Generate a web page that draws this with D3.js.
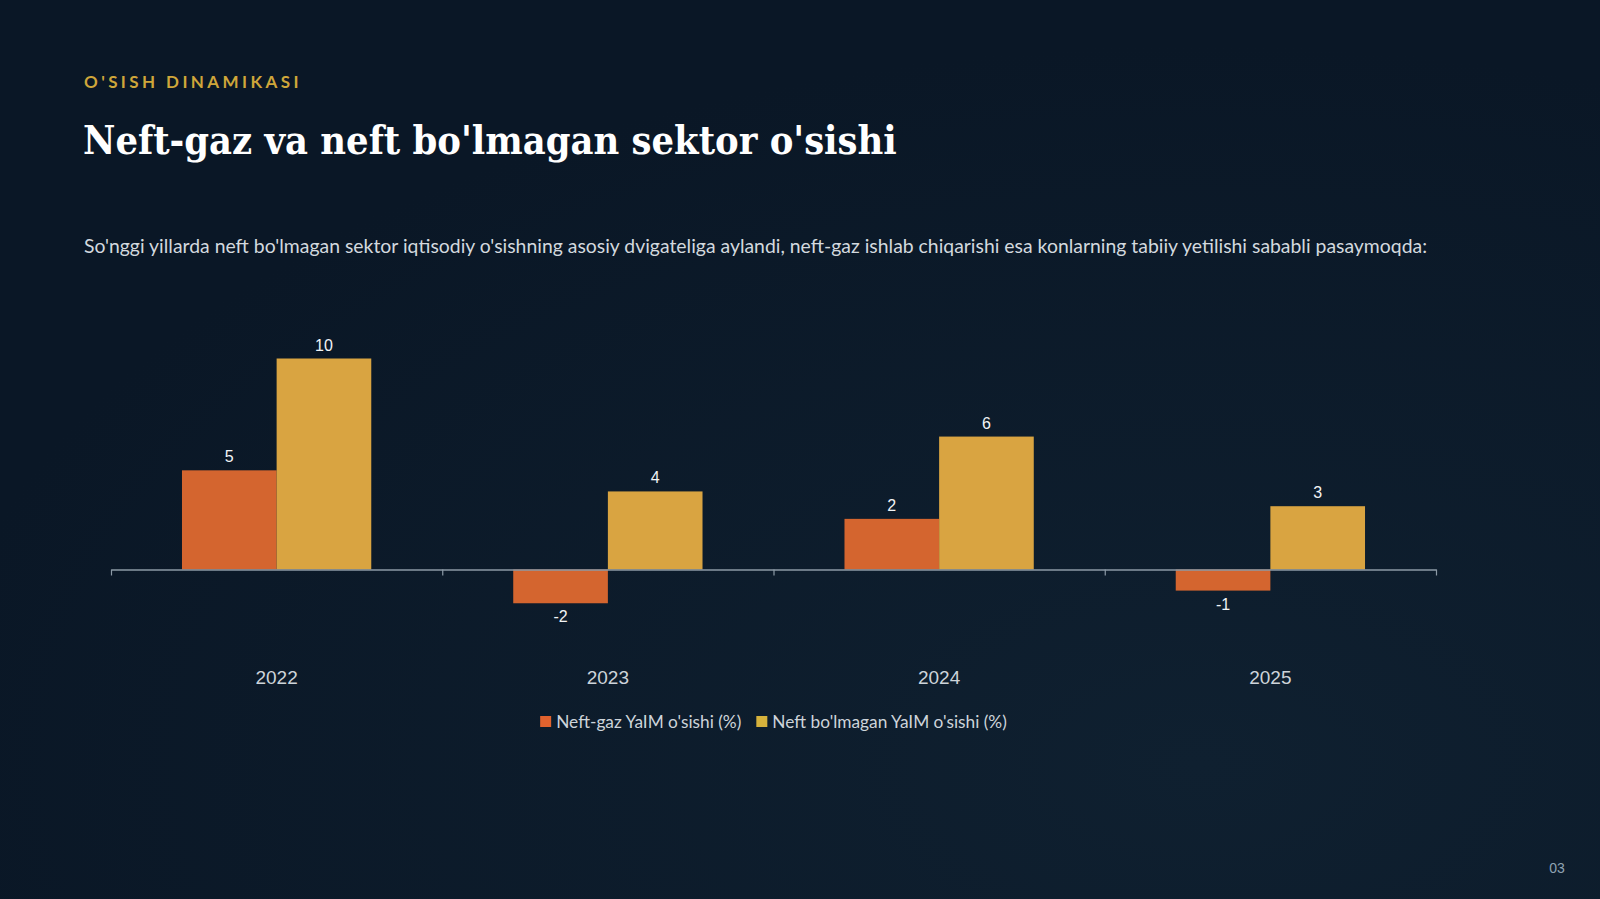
<!DOCTYPE html>
<html>
<head>
<meta charset="utf-8">
<script src="https://cdn.jsdelivr.net/npm/d3@7"></script>
<style>
  html, body { margin: 0; padding: 0; background: #0b1827; }
  svg { display: block; }
</style>
</head>
<body>
<svg id="chart" width="1600" height="899"></svg>
<script>
// chart data
const years = ['2022', '2023', '2024', '2025'];
const seriesNames = ["Neft-gaz YaIM o'sishi (%)", "Neft bo'lmagan YaIM o'sishi (%)"];
const oilGas = [4.7, -1.6, 2.4, -1.0];
const nonOil = [10.0, 3.7, 6.3, 3.0];
const seriesColors = ['#d4652f', '#d9a441'];
const legendColors = ['#e0622e', '#d6b23c'];

const svg = d3.select('#chart');

// background
const defs = svg.append('defs');
const bg = defs.append('radialGradient')
    .attr('id', 'bg')
    .attr('cx', '75%').attr('cy', '85%').attr('r', '80%');
bg.append('stop').attr('offset', '0%').attr('stop-color', '#0f2030');
bg.append('stop').attr('offset', '100%').attr('stop-color', '#0a1726');
svg.append('rect').attr('width', 1600).attr('height', 899).attr('fill', 'url(#bg)');

// header texts
svg.append('text')
    .attr('x', 84).attr('y', 88)
    .attr('fill', '#cfa63a')
    .style('font-family', 'Lato')
    .style('font-weight', 700)
    .style('font-size', '17px')
    .style('letter-spacing', '3.4px')
    .text("O'SISH DINAMIKASI");

svg.append('text')
    .attr('x', 83).attr('y', 154)
    .attr('fill', '#ffffff')
    .style('font-family', '"DejaVu Serif Condensed", "DejaVu Serif"')
    .style('font-stretch', 'condensed')
    .style('font-weight', 700)
    .style('font-size', '39.4px')
    .text("Neft-gaz va neft bo'lmagan sektor o'sishi");

svg.append('text')
    .attr('x', 84).attr('y', 253)
    .attr('fill', '#d3d9df')
    .style('font-family', 'Lato')
    .style('font-size', '19.4px')
    .text("So'nggi yillarda neft bo'lmagan sektor iqtisodiy o'sishning asosiy dvigateliga aylandi, neft-gaz ishlab chiqarishi esa konlarning tabiiy yetilishi sababli pasaymoqda:");

svg.append('text')
    .attr('x', 1557).attr('y', 873)
    .attr('text-anchor', 'middle')
    .attr('fill', '#8fa3b3')
    .style('font-family', 'Liberation Sans')
    .style('font-size', '14px')
    .text('03');

// scales
const x0 = d3.scaleBand().domain(years).range([111, 1436]).paddingInner(0).paddingOuter(0);
const x1 = d3.scaleBand().domain([0, 1]).range([0, x0.bandwidth()]).paddingInner(0).paddingOuter(0.75);
const y = d3.scaleLinear().domain([-2, 10]).range([611.7, 358.5]);

const rows = years.map((yr, i) => ({ year: yr, values: [oilGas[i], nonOil[i]] }));

const groups = svg.append('g').selectAll('g')
    .data(rows)
    .join('g')
    .attr('transform', d => `translate(${x0(d.year)},0)`);

groups.selectAll('rect')
    .data(d => d.values.map((v, k) => ({ v, k })))
    .join('rect')
    .attr('x', d => x1(d.k))
    .attr('width', x1.bandwidth())
    .attr('y', d => y(Math.max(0, d.v)))
    .attr('height', d => Math.abs(y(d.v) - y(0)))
    .attr('fill', d => seriesColors[d.k]);

groups.selectAll('text.val')
    .data(d => d.values.map((v, k) => ({ v, k })))
    .join('text')
    .attr('class', 'val')
    .attr('x', d => x1(d.k) + x1.bandwidth() / 2)
    .attr('y', d => d.v >= 0 ? y(d.v) - 8 : y(d.v) + 19)
    .attr('text-anchor', 'middle')
    .attr('fill', '#f2f4f6')
    .style('font-family', 'Liberation Sans')
    .style('font-size', '16px')
    .text(d => String(Math.round(d.v)));

// axis with ticks on category boundaries
const edge = d3.scaleLinear().domain([0, years.length]).range(x0.range());
const axis = svg.append('g')
    .attr('transform', `translate(0,${y(0)})`)
    .call(d3.axisBottom(edge).ticks(years.length).tickFormat('').tickSize(6).tickSizeOuter(0));
axis.select('.domain').attr('stroke', '#8c9aa6').attr('stroke-width', 1.5);
axis.selectAll('.tick line').attr('stroke', '#8c9aa6').attr('stroke-width', 1.2);

// category labels
svg.append('g').selectAll('text')
    .data(years)
    .join('text')
    .attr('x', d => x0(d) + x0.bandwidth() / 2)
    .attr('y', 684)
    .attr('text-anchor', 'middle')
    .attr('fill', '#cdd4da')
    .style('font-family', 'Liberation Sans')
    .style('font-size', '19px')
    .text(d => d);

// legend
const legend = svg.append('g');
const items = legend.selectAll('g')
    .data(seriesNames)
    .join('g');
items.append('rect')
    .attr('width', 11).attr('height', 11)
    .attr('y', -6)
    .attr('fill', (d, i) => legendColors[i]);
items.append('text')
    .attr('x', 16).attr('y', 5.5)
    .attr('fill', '#cdd4da')
    .style('font-family', 'Lato')
    .style('font-size', '17.3px')
    .text(d => d);

let offset = 0;
const widths = [];
items.each(function () { widths.push(this.getBBox().width); });
const gap = 15;
const total = d3.sum(widths) + gap * (widths.length - 1);
const legendX = (x0.range()[0] + x0.range()[1]) / 2 - total / 2;
items.attr('transform', (d, i) => {
    const t = `translate(${legendX + offset},722)`;
    offset += widths[i] + gap;
    return t;
});
</script>
</body>
</html>
